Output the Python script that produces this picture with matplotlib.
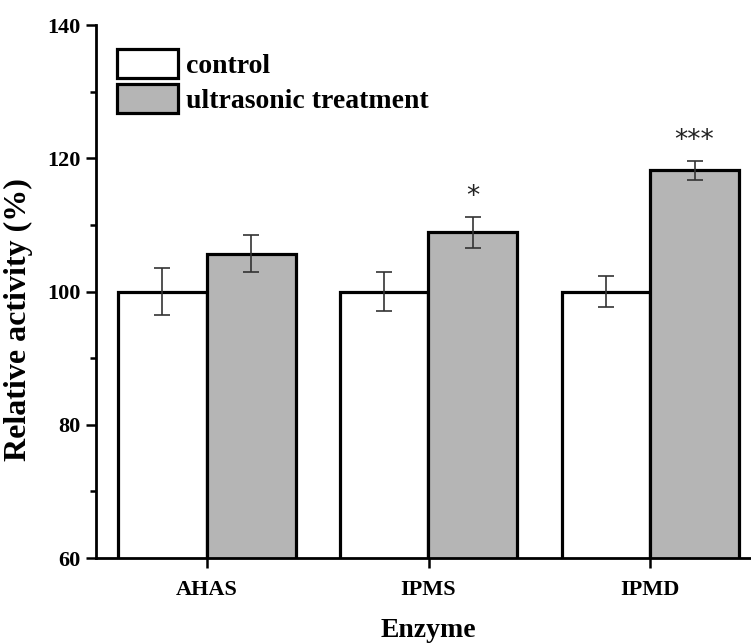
import numpy as np
import matplotlib
matplotlib.use("Agg")
import matplotlib.pyplot as plt
from matplotlib.ticker import MultipleLocator

# data
enzymes = ["AHAS", "IPMS", "IPMD"]
control = [100.0, 100.0, 100.0]
control_err = [3.6, 3.0, 2.4]
treated = [105.7, 108.9, 118.2]
treated_err = [2.8, 2.3, 1.4]
signif = ["", "*", "***"]

plt.rcParams["font.family"] = ["Liberation Serif", "DejaVu Serif"]
plt.rcParams["font.weight"] = "bold"

fig = plt.figure(figsize=(7.51, 6.43), dpi=100)
ax = fig.add_axes([96 / 751, 85 / 643, 665 / 751, 533 / 643])

x = np.arange(len(enzymes))
w = 0.4
err_kw = dict(ecolor="#333333", elinewidth=1.2, capsize=5.5, capthick=1.2)

ax.bar(x - w / 2, control, w, bottom=0, color="white", edgecolor="black",
       linewidth=2.3, yerr=control_err, error_kw=err_kw, label="control", zorder=2)
ax.bar(x + w / 2, treated, w, bottom=0, color="#b5b5b5", edgecolor="black",
       linewidth=2.3, yerr=treated_err, error_kw=err_kw,
       label="ultrasonic treatment", zorder=2)

# significance stars
for xi, v, e, s in zip(x, treated, treated_err, signif):
    if s:
        ax.text(xi + w / 2, v + e + 1.0, s, ha="center", va="bottom",
                fontsize=19, fontweight="normal", family="DejaVu Sans", color="#222222")

ax.set_xlim(-0.5, 2.5)
ax.set_ylim(60, 140)
ax.set_xticks(x)
ax.set_xticklabels(enzymes)
ax.yaxis.set_major_locator(MultipleLocator(20))
ax.yaxis.set_minor_locator(MultipleLocator(10))

for side in ["top", "right"]:
    ax.spines[side].set_visible(False)
for side in ["left", "bottom"]:
    ax.spines[side].set_linewidth(2.0)

ax.tick_params(axis="both", which="major", direction="out", length=7, width=1.8,
               labelsize=16, pad=4)
ax.tick_params(axis="x", which="major", pad=9)
ax.tick_params(axis="y", which="minor", direction="out", length=4, width=1.8)
ax.tick_params(axis="x", which="minor", length=0)

ax.set_ylabel("Relative activity (%)", fontsize=23, fontweight="bold")
ax.yaxis.set_label_coords(-0.0947, 0.448)
ax.set_xlabel("Enzyme", fontsize=20, fontweight="bold", labelpad=12.5)

leg = ax.legend(loc="upper left", bbox_to_anchor=(117 / 751, 1 - 49 / 643),
                bbox_transform=fig.transFigure, frameon=False, fontsize=20,
                handlelength=2.2, handleheight=1.22, labelspacing=0.2,
                handletextpad=0.3, borderpad=0, borderaxespad=0)
for h in leg.legend_handles:
    h.set_linewidth(2.3)

fig.savefig("out.png", dpi=100)
